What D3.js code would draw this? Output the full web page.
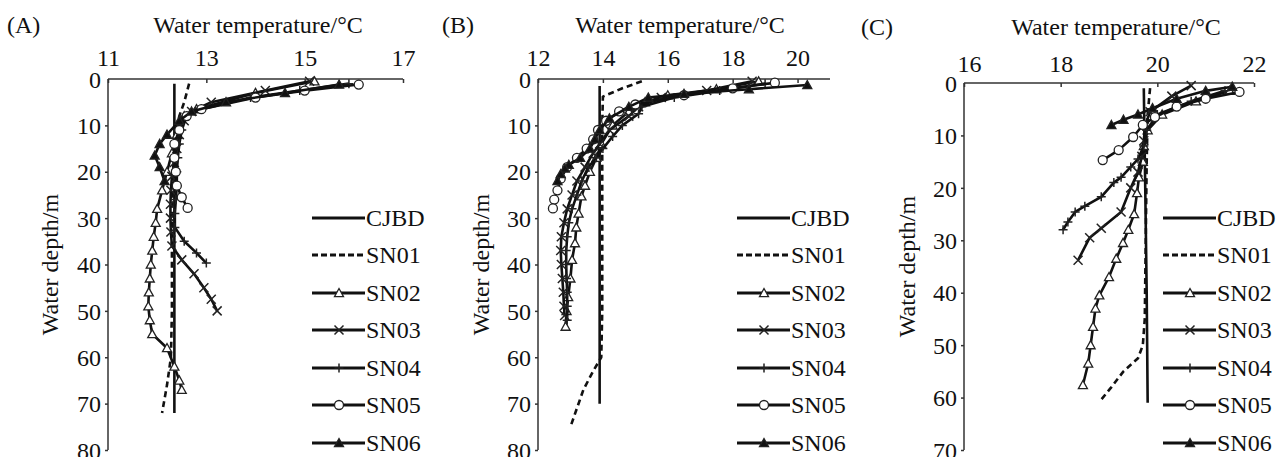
<!DOCTYPE html>
<meta charset="utf-8">
<style>
body { margin: 0; background: #fff; }
text { font-family: "Liberation Serif", "DejaVu Serif", serif !important; }
.axis path, .axis line { stroke: #333; stroke-width: 1.5; }
.axis text { font-size: 24px; fill: #111; }
.ttl { font-size: 24px; fill: #111; }
.leg { font-size: 24px; fill: #111; }
</style>
<svg id="svg" width="1286" height="457"></svg>
<script src="https://d3js.org/d3.v7.min.js"></script>
<script>
// series names and marker types
var seriesNames = ["CJBD", "SN01", "SN02", "SN03", "SN04", "SN05", "SN06"];
var markerTypes = ["none", "none", "triOpen", "x", "plus", "circle", "triFilled"];

// panel A, [temperature, depth]
var A_CJBD = [[12.35, 1], [12.35, 20], [12.35, 40], [12.35, 60], [12.35, 72]];
var A_SN01 = [[12.65, 1], [12.55, 5], [12.45, 8], [12.38, 12], [12.32, 20], [12.3, 30], [12.3, 40], [12.3, 50], [12.28, 60], [12.2, 66], [12.1, 72]];
var A_SN02 = [[15.2, 0.5], [14.0, 3], [12.8, 6.5], [12.55, 8], [12.4, 12], [12.3, 16], [12.2, 20], [12.1, 24], [12.0, 28], [11.97, 31], [11.93, 34], [11.9, 37], [11.87, 40], [11.85, 43], [11.83, 46], [11.82, 49], [11.85, 52], [11.9, 55], [12.2, 58], [12.35, 62], [12.45, 65], [12.5, 67]];
var A_SN03 = [[15.1, 0.5], [14.2, 2.5], [13.1, 5], [12.7, 7], [12.55, 9], [12.45, 12], [12.4, 15], [12.35, 18], [12.3, 21], [12.28, 24], [12.27, 27], [12.27, 30], [12.28, 33], [12.3, 36], [12.5, 39], [12.75, 42], [12.95, 45], [13.1, 47.5], [13.22, 50]];
var A_SN04 = [[15.9, 1], [14.9, 2.5], [13.9, 4], [12.9, 6.5], [12.6, 8], [12.5, 11], [12.45, 14], [12.42, 17], [12.4, 20], [12.4, 23], [12.38, 26], [12.36, 29], [12.36, 32], [12.55, 35], [12.8, 37.5], [13.0, 39.7]];
var A_SN05 = [[16.1, 1.2], [15.0, 2.5], [14.0, 4], [12.9, 6.5], [12.6, 8], [12.45, 11], [12.35, 14], [12.35, 17], [12.38, 20], [12.4, 23], [12.5, 25.5], [12.62, 27.8]];
var A_SN06 = [[15.7, 1.2], [14.6, 3], [13.4, 5], [12.7, 7], [12.45, 9], [12.2, 12], [12.05, 14], [11.95, 16.5], [12.05, 19], [12.15, 22]];

// panel B
var B_CJBD = [[13.9, 1.5], [13.9, 20], [13.9, 40], [13.9, 60], [13.9, 70]];
var B_SN01 = [[15.2, 0.5], [14.6, 2], [14.0, 3.8], [13.98, 10], [13.98, 20], [13.98, 30], [13.98, 40], [13.98, 50], [13.95, 60], [13.7, 63], [13.4, 67], [13.2, 71], [13.0, 75]];
var B_SN02 = [[18.8, 0.5], [17.5, 2.2], [16.0, 3.5], [15.3, 5], [14.8, 7], [14.3, 10], [13.95, 14], [13.8, 17], [13.6, 20], [13.45, 23], [13.34, 25.3], [13.25, 29], [13.18, 32], [13.14, 35.4], [13.05, 39], [13.0, 43], [12.93, 47], [12.88, 50], [12.85, 53.4]];
var B_SN03 = [[18.6, 0.5], [17.2, 2.5], [15.8, 4], [15.1, 6], [14.8, 8], [14.2, 11], [13.9, 14], [13.7, 16], [13.45, 19], [13.2, 22], [13.05, 25], [12.9, 28], [12.8, 31], [12.72, 34], [12.7, 37], [12.72, 40], [12.75, 43], [12.78, 46], [12.8, 49], [12.82, 51]];
var B_SN04 = [[19.0, 1], [17.6, 2.5], [16.2, 4], [15.2, 6], [15.1, 7.5], [14.6, 10], [14.3, 12.4], [14.0, 15], [13.8, 17], [13.55, 19], [13.35, 22], [13.2, 25], [13.05, 28], [12.95, 31], [12.9, 34], [12.87, 37], [12.87, 40], [12.88, 43], [12.9, 46], [12.9, 49], [12.9, 52]];
var B_SN05 = [[19.3, 0.8], [18.0, 2], [16.5, 3.5], [15.0, 5.5], [14.5, 7], [14.1, 9], [13.85, 11], [13.7, 13], [13.5, 15], [13.2, 17], [12.9, 19], [12.7, 21.5], [12.6, 24], [12.5, 26], [12.46, 27.9]];
var B_SN06 = [[20.3, 1.3], [18.5, 2.2], [16.5, 3.2], [15.4, 4], [14.8, 6], [14.2, 8.5], [13.9, 11], [13.75, 13], [13.6, 15], [13.3, 17], [12.95, 18.5], [12.83, 19.3], [12.7, 20.5], [12.6, 22]];

// panel C
var C_CJBD = [[19.72, 1], [19.75, 20], [19.78, 40], [19.8, 61]];
var C_SN01 = [[19.85, 1], [19.8, 6], [19.78, 15], [19.76, 30], [19.74, 45], [19.7, 50], [19.6, 52.5], [19.3, 55], [19.05, 58], [18.83, 60.5]];
var C_SN02 = [[21.5, 1.5], [20.8, 3.5], [20.1, 6], [19.8, 9], [19.72, 12], [19.7, 15], [19.62, 18], [19.58, 21], [19.52, 25], [19.4, 28], [19.29, 30.5], [19.15, 33.5], [19.0, 37], [18.8, 40.5], [18.72, 43], [18.67, 46.5], [18.62, 50], [18.57, 53.5], [18.46, 57.6]];
var C_SN03 = [[20.7, 0.5], [20.3, 2.5], [19.85, 5.5], [19.75, 8], [19.72, 11], [19.68, 14], [19.6, 17], [19.45, 20], [19.25, 24.6], [18.84, 27.7], [18.6, 29.5], [18.36, 33.8]];
var C_SN04 = [[21.4, 1.5], [20.7, 3.5], [20.0, 6], [19.78, 9], [19.72, 12], [19.6, 14.5], [19.45, 16], [19.25, 18], [19.1, 19], [18.84, 21.7], [18.5, 23.5], [18.3, 24.6], [18.15, 26.5], [18.05, 28]];
var C_SN05 = [[21.7, 1.7], [21.0, 3], [20.4, 4.5], [19.95, 6.5], [19.7, 8], [19.5, 10.3], [19.2, 12.8], [18.87, 14.7]];
var C_SN06 = [[21.55, 0.7], [21.0, 1.5], [20.4, 3], [19.9, 4.8], [19.6, 6], [19.3, 7], [19.05, 8]];

// axis ticks
var A_xTicks = [11, 13, 15, 17], A_yTicks = [0, 10, 20, 30, 40, 50, 60, 70, 80];
var B_xTicks = [12, 14, 16, 18, 20], B_yTicks = [0, 10, 20, 30, 40, 50, 60, 70, 80];
var C_xTicks = [16, 18, 20, 22], C_yTicks = [0, 10, 20, 30, 40, 50, 60, 70];

var panels = [
  {label: "(A)", lx: 7, ly: 33, tx: 258, ty: 33, ylx: 58,
   x0: 108, x1: 403, y0: 79, y1: 450, xd: [11, 17], yd: [0, 80], xTicks: A_xTicks, yTicks: A_yTicks, tickLab: 66,
   legX: 312, series: [A_CJBD, A_SN01, A_SN02, A_SN03, A_SN04, A_SN05, A_SN06]},
  {label: "(B)", lx: 442, ly: 33, tx: 680, ty: 33, ylx: 489,
   x0: 538, x1: 830, y0: 79, y1: 450, xd: [12, 21], yd: [0, 80], xTicks: B_xTicks, yTicks: B_yTicks, tickLab: 66,
   legX: 737, series: [B_CJBD, B_SN01, B_SN02, B_SN03, B_SN04, B_SN05, B_SN06]},
  {label: "(C)", lx: 861, ly: 35, tx: 1116, ty: 35, ylx: 915,
   x0: 964, x1: 1254, y0: 83, y1: 450, xd: [16, 22], yd: [0, 70], xTicks: C_xTicks, yTicks: C_yTicks, tickLab: 72,
   legX: 1163, series: [C_CJBD, C_SN01, C_SN02, C_SN03, C_SN04, C_SN05, C_SN06]}
];

var legRows = [218, 255, 293, 330, 368, 405, 443];

var svg = d3.select("svg");

function drawMarker(g, type, cx, cy) {
  if (type == "none") return;
  var s = 4.5;
  if (type == "triOpen" || type == "triFilled") {
    g.append("path")
      .attr("d", "M" + cx + "," + (cy - s) + "L" + (cx + s) + "," + (cy + s * 0.8) + "L" + (cx - s) + "," + (cy + s * 0.8) + "Z")
      .attr("fill", type == "triFilled" ? "#111" : "#fff")
      .attr("stroke", "#222").attr("stroke-width", 1.3);
  } else if (type == "circle") {
    g.append("circle").attr("cx", cx).attr("cy", cy).attr("r", s)
      .attr("fill", "#fff").attr("stroke", "#222").attr("stroke-width", 1.3);
  } else if (type == "x") {
    g.append("path")
      .attr("d", "M" + (cx - s) + "," + (cy - s) + "L" + (cx + s) + "," + (cy + s) + "M" + (cx - s) + "," + (cy + s) + "L" + (cx + s) + "," + (cy - s))
      .attr("stroke", "#222").attr("stroke-width", 1.5);
  } else if (type == "plus") {
    g.append("path")
      .attr("d", "M" + (cx - s) + "," + cy + "L" + (cx + s) + "," + cy + "M" + cx + "," + (cy - s) + "L" + cx + "," + (cy + s))
      .attr("stroke", "#222").attr("stroke-width", 1.5);
  }
}

panels.forEach(function(p) {
  var x = d3.scaleLinear().domain(p.xd).range([p.x0, p.x1]);
  var y = d3.scaleLinear().domain(p.yd).range([p.y0, p.y1]);

  svg.append("text").attr("class", "ttl").attr("x", p.lx).attr("y", p.ly).text(p.label);
  svg.append("text").attr("class", "ttl").attr("x", p.tx).attr("y", p.ty)
    .attr("text-anchor", "middle").text("Water temperature/\u00B0C");

  // top axis (ticks inward)
  var gx = svg.append("g").attr("class", "axis")
    .attr("transform", "translate(0," + p.y0 + ")")
    .call(d3.axisBottom(x).tickValues(p.xTicks).tickSize(4).tickSizeOuter(0).tickFormat(d3.format("d")));
  gx.attr("font-family", null);
  gx.select(".domain").attr("d", "M" + p.x0 + ",0H" + p.x1);
  gx.selectAll(".tick text").attr("y", p.tickLab - p.y0).attr("dy", 0);
  if (p.label == "(C)") gx.selectAll(".tick text").filter(function(d) { return d == 16; }).attr("x", 5);

  // left axis
  var gy = svg.append("g").attr("class", "axis")
    .attr("transform", "translate(" + p.x0 + ",0)")
    .call(d3.axisLeft(y).tickValues(p.yTicks).tickSize(3).tickSizeOuter(0).tickFormat(d3.format("d")));
  gy.attr("font-family", null);
  gy.select(".domain").attr("d", "M0," + p.y0 + "V" + p.y1);
  gy.selectAll(".tick text").attr("x", -7).attr("dy", "0.34em");
  gy.selectAll(".tick").filter(function(d) { return d == 0; }).select("line").remove();

  svg.append("text").attr("class", "ttl")
    .attr("transform", "translate(" + p.ylx + "," + ((p.y0 + p.y1) / 2) + ") rotate(-90)")
    .attr("text-anchor", "middle").text("Water depth/m");

  var line = d3.line().x(function(d) { return x(d[0]); }).y(function(d) { return y(d[1]); });

  p.series.forEach(function(data, i) {
    var g = svg.append("g");
    g.append("path").datum(data).attr("d", line)
      .attr("fill", "none").attr("stroke", "#111").attr("stroke-width", 2.6)
      .attr("stroke-linejoin", "round")
      .attr("stroke-dasharray", i == 1 ? "6,4" : null);
    data.forEach(function(d) { drawMarker(g, markerTypes[i], x(d[0]), y(d[1])); });

    // legend
    var ly = legRows[i];
    var lg = svg.append("g");
    lg.append("line").attr("x1", p.legX).attr("x2", p.legX + 53).attr("y1", ly).attr("y2", ly)
      .attr("stroke", "#111").attr("stroke-width", 3.2)
      .attr("stroke-dasharray", i == 1 ? "6,3" : null);
    drawMarker(lg, markerTypes[i], p.legX + 27, ly);
    lg.append("text").attr("class", "leg").attr("x", p.legX + 54).attr("y", ly + 8).text(seriesNames[i]);
  });
});
</script>
